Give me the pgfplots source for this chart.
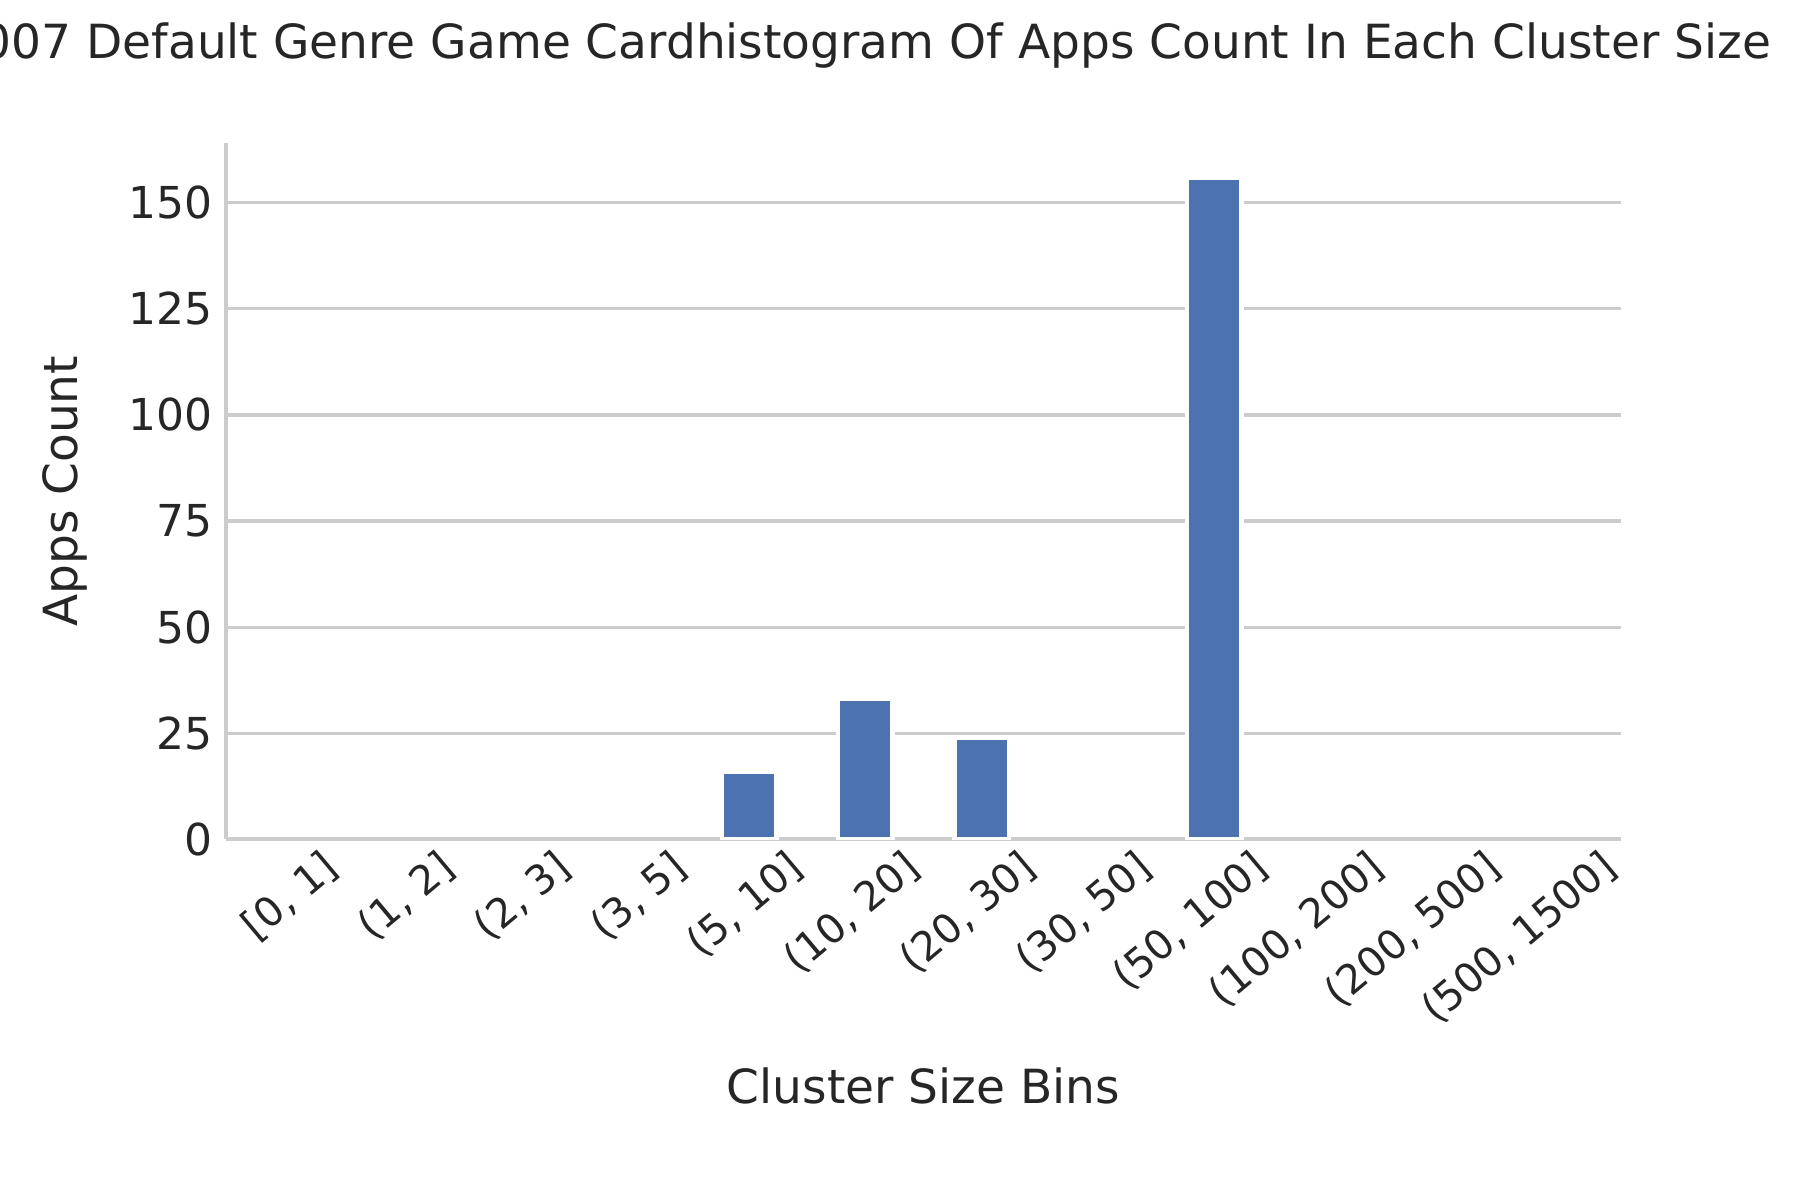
\documentclass[border=0pt]{standalone}
\usepackage{pgfplots}
\pgfplotsset{compat=1.18}
\usepackage{fontspec}
\setmainfont{DejaVu Sans}
\definecolor{bar}{HTML}{4C72B0}
\definecolor{txt}{HTML}{262626}
\definecolor{grd}{HTML}{CCCCCC}
\begin{document}
\begin{tikzpicture}
\useasboundingbox (-59.1pt,-94.2pt) rectangle (411.3pt,219.3pt);
\node[font=\fontsize{12.3}{14}\selectfont, text=txt, overlay] at (166pt,207.3pt) {2007 Default Genre Game Cardhistogram Of Apps Count In Each Cluster Size};
\begin{axis}[
  at={(0,0)}, anchor=south west, scale only axis,
  width=364.5pt, height=181.8pt,
  xmin=-0.5, xmax=11.5, ymin=0, ymax=164,
  axis x line*=bottom, axis y line*=left,
  axis line style={grd, line width=1pt},
  tick style={draw=none},
  ymajorgrids, grid style={grd, line width=0.8pt},
  ytick={0,25,50,75,100,125,150},
  xtick={0,...,11},
  xticklabels={{[0, 1]},{(1, 2]},{(2, 3]},{(3, 5]},{(5, 10]},{(10, 20]},{(20, 30]},{(30, 50]},{(50, 100]},{(100, 200]},{(200, 500]},{(500, 1500]}},
  x tick label style={rotate=40, anchor=north east, xshift=12pt, yshift=-1pt, font=\fontsize{10.6}{12}\selectfont, text=txt},
  y tick label style={font=\fontsize{11.5}{13}\selectfont, text=txt},
  /pgf/number format/assume math mode=true,
  xlabel={Cluster Size Bins}, ylabel={Apps Count},
  label style={font=\fontsize{12.3}{14}\selectfont, text=txt},
  xlabel style={yshift=-2pt},
  ylabel style={yshift=4pt},
  ybar, bar width=0.47, bar shift=0pt,
]
\addplot[fill=bar, draw=white, line width=1.2pt] coordinates {(4,16) (5,33) (6,24) (8,156)};
\end{axis}
\end{tikzpicture}
\end{document}
